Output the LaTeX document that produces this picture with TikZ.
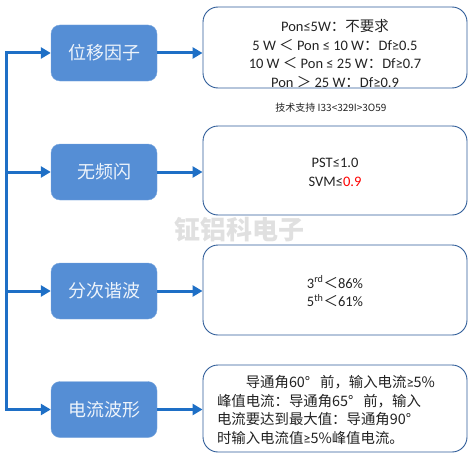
\documentclass[tikz,border=0pt]{standalone}
\usepackage{fontspec}
\setmainfont{Carlito}
\newfontfamily\cjk{Noto Sans CJK SC}
\usetikzlibrary{arrows.meta}
\definecolor{boxblue}{HTML}{558ED5}
\definecolor{linkblue}{HTML}{1E6FC6}
\definecolor{rimblue}{HTML}{2E5C98}
\definecolor{ink}{HTML}{222222}
\newcommand{\wdeg}{\makebox[1.05em][l]{°}}
\newcommand{\nge}{{\rmfamily ≥}}
\begin{document}
\begin{tikzpicture}[x=1pt,y=-1pt,
    topic/.style={fill=boxblue, draw=boxblue!80!white, rounded corners=9pt,
      minimum width=106pt, minimum height=56pt, inner sep=0pt,
      text=white!90!boxblue, font=\cjk\fontsize{18}{20}\selectfont},
    spec/.style={draw=rimblue, line width=0.9pt, rounded corners=15pt,
      minimum width=264pt, inner sep=0pt},
    specText/.style={text=ink, align=center, font=\fontsize{14.5}{18.7}\selectfont},
    link/.style={draw=linkblue, line width=3pt,
      -{Triangle[length=10pt,width=11pt]}}]
  \useasboundingbox (0,0) rectangle (476,460);

  % left side: topics
  \node[topic] (p1) at (104,53) {位移因子};
  \node[topic] (p2) at (104,172) {无频闪};
  \node[topic] (p3) at (104,291) {分次谐波};
  \node[topic] (p4) at (104,409.5) {电流波形};

  \coordinate (r1) at (6,53);
  \coordinate (r2) at (6,172);
  \coordinate (r3) at (6,291);
  \coordinate (r4) at (6,409.5);

  % right side: limits
  \node[spec, minimum height=81pt] (s1) at (335,47.5) {};
  \node[spec, minimum height=89pt] (s2) at (335,170.5) {};
  \node[spec, minimum height=90pt] (s3) at (335,290) {};
  \node[spec, minimum height=87pt] (s4) at (335,408.5) {};

  \node[specText] (t1) at (335,53.5)
    {Pon≤5W{\cjk ：不要求}\\
     5 W {\cjk ＜} Pon ≤ 10 W{\cjk ：}Df≥0.5\\
     10 W {\cjk ＜} Pon ≤ 25 W{\cjk ：}Df≥0.7\\
     Pon {\cjk ＞} 25 W{\cjk ：}Df≥0.9};
  \node[specText] (t2) at (335,172)
    {PST≤1.0\\ SVM≤\textcolor{red}{0.9}};
  \node[specText] (t3) at (335,291.5)
    {3\textsuperscript{rd}{\cjk ＜}86\%\\ 5\textsuperscript{th}{\cjk ＜}61\%};
  \node[text=ink, align=left, text width=240pt, inner sep=0pt,
        font=\cjk\fontsize{14.4}{18.8}\selectfont] (t4) at (337,410)
    {\hspace*{2em}导通角60\wdeg 前，输入电流\nge 5\%\\
     峰值电流：导通角65\wdeg 前，输入\\
     电流要达到最大值：导通角90\wdeg\\
     时输入电流值\nge 5\%峰值电流。};

  \node[text=ink, font=\cjk\fontsize{10}{11}\selectfont] (tech) at (331,108)
    {技术支持 I33<329I>3O59};
  \node[text=black!12, font=\cjk\bfseries\fontsize{26}{28}\selectfont] (mark)
    at (239,230) {钲铝科电子};

  % connectors
  \draw[link] (r4) -- (r1) -- (p1.west);
  \draw[link] (r1) -- (r4) -- (p4.west);
  \draw[link] (r2) -- (p2.west);
  \draw[link] (r3) -- (p3.west);

  \draw[link] (p1.east) -- (p1.east -| s1.west);
  \draw[link] (p2.east) -- (p2.east -| s2.west);
  \draw[link] (p3.east) -- (p3.east -| s3.west);
  \draw[link] (p4.east) -- (p4.east -| s4.west);
\end{tikzpicture}
\end{document}
